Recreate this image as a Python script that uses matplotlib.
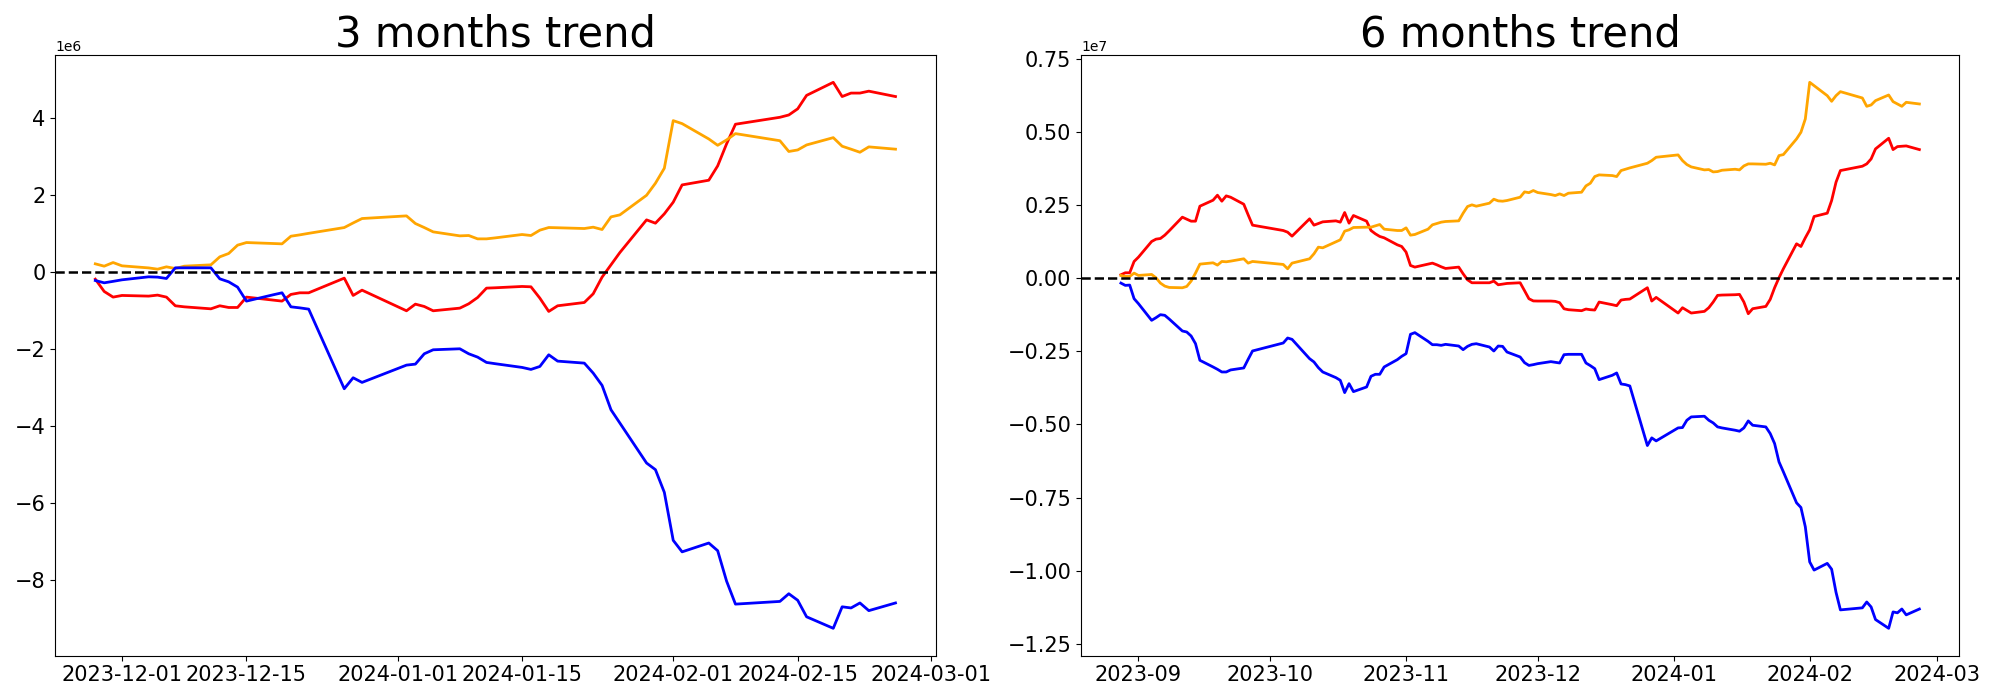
import matplotlib
matplotlib.use("Agg")
import matplotlib.pyplot as plt
import matplotlib.ticker as mticker
import pandas as pd

# ---------------- 3 months (values in millions) ----------------
dates_3m = ["2023-11-28", "2023-11-29", "2023-11-30", "2023-12-01",
            "2023-12-04", "2023-12-05", "2023-12-06", "2023-12-07", "2023-12-08",
            "2023-12-11", "2023-12-12", "2023-12-13", "2023-12-14", "2023-12-15",
            "2023-12-18", "2023-12-19", "2023-12-20", "2023-12-21", "2023-12-22",
            "2023-12-26", "2023-12-27", "2023-12-28",
            "2024-01-02", "2024-01-03", "2024-01-04", "2024-01-05",
            "2024-01-08", "2024-01-09", "2024-01-10", "2024-01-11", "2024-01-12",
            "2024-01-15", "2024-01-16", "2024-01-17", "2024-01-18", "2024-01-19",
            "2024-01-22", "2024-01-23", "2024-01-24", "2024-01-25", "2024-01-26",
            "2024-01-29", "2024-01-30", "2024-01-31", "2024-02-01", "2024-02-02",
            "2024-02-05", "2024-02-06", "2024-02-07", "2024-02-08",
            "2024-02-13", "2024-02-14", "2024-02-15", "2024-02-16",
            "2024-02-19", "2024-02-20", "2024-02-21", "2024-02-22", "2024-02-23",
            "2024-02-26"]
red_3m = [-0.183, -0.503, -0.65, -0.607,
          -0.624, -0.598, -0.65, -0.876, -0.903,
          -0.955, -0.876, -0.92, -0.92, -0.65,
          -0.728, -0.754, -0.58, -0.538, -0.538,
          -0.156, -0.607, -0.469,
          -1.006, -0.833, -0.894, -1.006,
          -0.937, -0.824, -0.66, -0.416, -0.407,
          -0.373, -0.382, -0.677, -1.023, -0.876,
          -0.79, -0.564, -0.13, 0.19, 0.51,
          1.36, 1.274, 1.517, 1.82, 2.27,
          2.392, 2.765, 3.337, 3.849,
          4.03, 4.09, 4.25, 4.6,
          4.94, 4.57, 4.66, 4.66, 4.71,
          4.57]
orange_3m = [0.216, 0.155, 0.25, 0.164,
             0.11, 0.077, 0.138, 0.094, 0.155,
             0.19, 0.398, 0.485, 0.702, 0.77,
             0.745, 0.736, 0.935, 0.97, 1.01,
             1.16, 1.28, 1.395,
             1.464, 1.265, 1.16, 1.048,
             0.944, 0.953, 0.866, 0.866, 0.892,
             0.979, 0.953, 1.092, 1.161, 1.155,
             1.135, 1.17, 1.109, 1.438, 1.49,
             2.0, 2.314, 2.704, 3.943, 3.865,
             3.466, 3.301, 3.44, 3.605,
             3.42, 3.14, 3.18, 3.31,
             3.5, 3.277, 3.2, 3.12, 3.26,
             3.2]
blue_3m = [-0.218, -0.278, -0.24, -0.2,
           -0.122, -0.13, -0.165, 0.112, 0.112,
           0.112, -0.174, -0.252, -0.39, -0.754,
           -0.59, -0.538, -0.903, -0.93, -0.963,
           -3.035, -2.749, -2.87,
           -2.42, -2.394, -2.125, -2.021,
           -1.995, -2.125, -2.212, -2.35, -2.384,
           -2.48, -2.532, -2.455, -2.151, -2.316,
           -2.368, -2.628, -2.948, -3.582, -3.928,
           -4.968, -5.141, -5.731, -6.98, -7.28,
           -7.05, -7.25, -8.04, -8.64,
           -8.57, -8.37, -8.54, -8.97,
           -9.27, -8.71, -8.74, -8.61, -8.81,
           -8.61]

# ---------------- 6 months (values in millions) ----------------
dates_6m = ["2023-08-28", "2023-08-29", "2023-08-30", "2023-08-31", "2023-09-01",
            "2023-09-04", "2023-09-05", "2023-09-06", "2023-09-07", "2023-09-08",
            "2023-09-11", "2023-09-12", "2023-09-13", "2023-09-14", "2023-09-15",
            "2023-09-18", "2023-09-19", "2023-09-20", "2023-09-21", "2023-09-22",
            "2023-09-25", "2023-09-26", "2023-09-27",
            "2023-10-04", "2023-10-05", "2023-10-06",
            "2023-10-10", "2023-10-11", "2023-10-12", "2023-10-13",
            "2023-10-16", "2023-10-17", "2023-10-18", "2023-10-19", "2023-10-20",
            "2023-10-23", "2023-10-24", "2023-10-25", "2023-10-26", "2023-10-27",
            "2023-10-30", "2023-10-31", "2023-11-01", "2023-11-02", "2023-11-03",
            "2023-11-06", "2023-11-07", "2023-11-08", "2023-11-09", "2023-11-10",
            "2023-11-13", "2023-11-14", "2023-11-15", "2023-11-16", "2023-11-17",
            "2023-11-20", "2023-11-21", "2023-11-22", "2023-11-23", "2023-11-24",
            "2023-11-27", "2023-11-28", "2023-11-29", "2023-11-30", "2023-12-01",
            "2023-12-04", "2023-12-05", "2023-12-06", "2023-12-07", "2023-12-08",
            "2023-12-11", "2023-12-12", "2023-12-13", "2023-12-14", "2023-12-15",
            "2023-12-18", "2023-12-19", "2023-12-20", "2023-12-21", "2023-12-22",
            "2023-12-26", "2023-12-27", "2023-12-28",
            "2024-01-02", "2024-01-03", "2024-01-04", "2024-01-05",
            "2024-01-08", "2024-01-09", "2024-01-10", "2024-01-11", "2024-01-12",
            "2024-01-15", "2024-01-16", "2024-01-17", "2024-01-18", "2024-01-19",
            "2024-01-22", "2024-01-23", "2024-01-24", "2024-01-25", "2024-01-26",
            "2024-01-29", "2024-01-30", "2024-01-31", "2024-02-01", "2024-02-02",
            "2024-02-05", "2024-02-06", "2024-02-07", "2024-02-08",
            "2024-02-13", "2024-02-14", "2024-02-15", "2024-02-16",
            "2024-02-19", "2024-02-20", "2024-02-21", "2024-02-22", "2024-02-23",
            "2024-02-26"]
red_6m = [0.114, 0.182, 0.182, 0.569, 0.717,
          1.252, 1.332, 1.354, 1.468, 1.616,
          2.083, 2.014, 1.946, 1.946, 2.458,
          2.663, 2.834, 2.629, 2.811, 2.765,
          2.526, 2.162, 1.81,
          1.627, 1.57, 1.434,
          2.026, 1.81, 1.866, 1.923,
          1.957, 1.912, 2.242, 1.878, 2.14,
          1.946, 1.627, 1.514, 1.423, 1.377,
          1.138, 1.081, 0.888, 0.432, 0.376,
          0.478, 0.512, 0.455, 0.387, 0.33,
          0.376, 0.148, -0.057, -0.159, -0.159,
          -0.159, -0.102, -0.228, -0.205, -0.182,
          -0.159, -0.43, -0.705, -0.78, -0.784,
          -0.784, -0.795, -0.84, -1.048, -1.08,
          -1.114, -1.057, -1.08, -1.091, -0.818,
          -0.909, -0.943, -0.75, -0.727, -0.716,
          -0.329, -0.784, -0.659,
          -1.194, -1.012, -1.103, -1.194,
          -1.137, -1.012, -0.818, -0.59, -0.579,
          -0.568, -0.557, -0.818, -1.217, -1.046,
          -0.967, -0.727, -0.329, 0.013, 0.32,
          1.173, 1.081, 1.378, 1.651, 2.106,
          2.219, 2.652, 3.278, 3.676,
          3.824, 3.904, 4.074, 4.416,
          4.78, 4.393, 4.495, 4.507, 4.518,
          4.393]
orange_6m = [0.091, 0.057, 0.057, 0.171, 0.091,
             0.125, 0.011, -0.171, -0.273, -0.319,
             -0.33, -0.285, -0.102, 0.171, 0.478,
             0.523, 0.444, 0.569, 0.558, 0.58,
             0.66, 0.512, 0.569,
             0.467, 0.319, 0.512,
             0.66, 0.831, 1.058, 1.036,
             1.24, 1.309, 1.605, 1.65, 1.73,
             1.741, 1.741, 1.787, 1.832, 1.673,
             1.627, 1.627, 1.718, 1.468, 1.491,
             1.673, 1.821, 1.866, 1.912, 1.935,
             1.957, 2.219, 2.447, 2.504, 2.458,
             2.561, 2.697, 2.64, 2.629, 2.652,
             2.765, 2.947, 2.92, 2.993, 2.925,
             2.856, 2.822, 2.879, 2.822, 2.902,
             2.936, 3.152, 3.243, 3.471, 3.528,
             3.505, 3.471, 3.676, 3.721, 3.767,
             3.926, 4.017, 4.131,
             4.211, 4.017, 3.881, 3.801,
             3.699, 3.71, 3.63, 3.642, 3.687,
             3.721, 3.699, 3.835, 3.904, 3.904,
             3.892, 3.926, 3.869, 4.188, 4.222,
             4.757, 4.985, 5.44, 6.692, 6.578,
             6.236, 6.043, 6.236, 6.373,
             6.157, 5.872, 5.918, 6.066,
             6.259, 6.032, 5.952, 5.872, 6.009,
             5.952]
blue_6m = [-0.17, -0.249, -0.238, -0.703, -0.874,
           -1.443, -1.352, -1.25, -1.272, -1.398,
           -1.807, -1.842, -1.978, -2.24, -2.809,
           -3.037, -3.117, -3.208, -3.208, -3.139,
           -3.071, -2.775, -2.49,
           -2.218, -2.047, -2.093,
           -2.753, -2.866, -3.06, -3.208,
           -3.402, -3.493, -3.914, -3.607, -3.88,
           -3.721, -3.356, -3.288, -3.288, -3.037,
           -2.787, -2.673, -2.582, -1.921, -1.864,
           -2.16, -2.276, -2.276, -2.298, -2.264,
           -2.321, -2.446, -2.333, -2.264, -2.242,
           -2.355, -2.492, -2.321, -2.333, -2.526,
           -2.696, -2.89, -2.985, -2.958, -2.924,
           -2.855, -2.878, -2.901, -2.617, -2.605,
           -2.605, -2.901, -2.992, -3.094, -3.47,
           -3.322, -3.242, -3.618, -3.641, -3.686,
           -5.723, -5.461, -5.564,
           -5.12, -5.108, -4.858, -4.744,
           -4.721, -4.858, -4.949, -5.085, -5.12,
           -5.199, -5.233, -5.12, -4.881, -5.029,
           -5.086, -5.313, -5.654, -6.28, -6.622,
           -7.68, -7.84, -8.5, -9.7, -9.98,
           -9.75, -9.95, -10.74, -11.34,
           -11.27, -11.07, -11.24, -11.67,
           -11.97, -11.41, -11.44, -11.31, -11.51,
           -11.31]

titles = ["3 months trend", "6 months trend"]
SCALE = 1e6

fig = plt.figure(figsize=(20, 7), dpi=100)
ax1 = fig.add_axes([0.02765, 0.0634, 0.4401, 0.858])
ax2 = fig.add_axes([0.5405, 0.0634, 0.43915, 0.858])

panels = [
    (ax1, dates_3m, red_3m, orange_3m, blue_3m, 2e6),
    (ax2, dates_6m, red_6m, orange_6m, blue_6m, 2.5e6),
]
for (ax, d, r, o, b, step), title in zip(panels, titles):
    x = pd.to_datetime(d)
    ax.plot(x, [v * SCALE for v in r], color="red", linewidth=2)
    ax.plot(x, [v * SCALE for v in o], color="orange", linewidth=2)
    ax.plot(x, [v * SCALE for v in b], color="blue", linewidth=2)
    ax.axhline(0, color="black", linestyle="--", linewidth=1.8)
    ax.yaxis.set_major_locator(mticker.MultipleLocator(step))
    ax.tick_params(axis="both", labelsize=15)
    ax.set_title(title, fontsize=30)

fig.savefig("out.png", dpi=100)
